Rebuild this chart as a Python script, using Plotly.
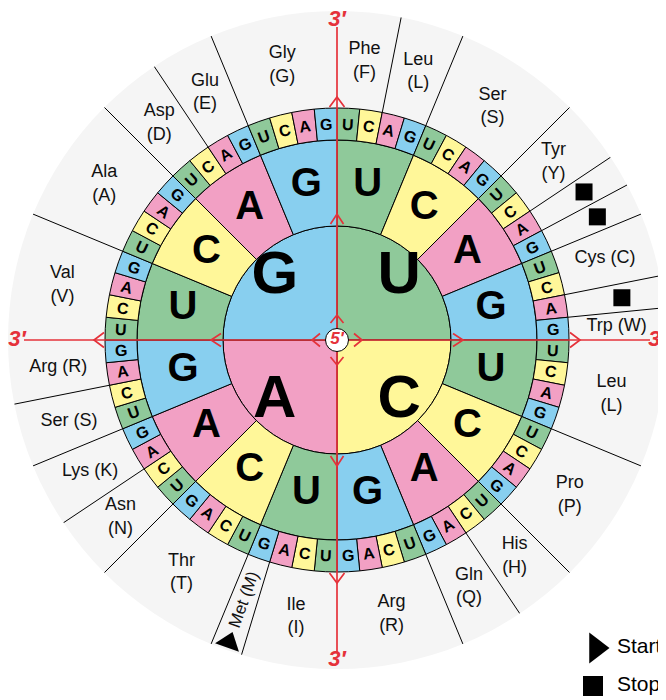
import numpy as np
import plotly.graph_objects as go

# ---------------- data ----------------
BASES = ["U", "C", "A", "G"]
BASE_COLORS = ["#8fc99a", "#fff799", "#f2a0c4", "#88cfef"]

# amino-acid groups, clockwise from 12 o'clock (codon counts)
AA_LABELS = ["Phe<br>(F)", "Leu<br>(L)", "Ser<br>(S)", "Tyr<br>(Y)", "", "", "Cys (C)", "", "Trp (W)",
             "Leu<br>(L)", "Pro<br>(P)", "His<br>(H)", "Gln<br>(Q)", "Arg<br>(R)",
             "Ile<br>(I)", "Met (M)", "Thr<br>(T)", "Asn<br>(N)", "Lys (K)", "Ser (S)", "Arg (R)",
             "Val<br>(V)", "Ala<br>(A)", "Asp<br>(D)", "Glu<br>(E)", "Gly<br>(G)"]
AA_SPANS = [2, 2, 4, 2, 1, 1, 2, 1, 1,
            4, 4, 2, 2, 4,
            3, 1, 4, 2, 2, 2, 2,
            4, 4, 2, 2, 4]
AA_KIND = ["aa", "aa", "aa", "aa", "stop", "stop", "aa", "stop", "aa",
           "aa", "aa", "aa", "aa", "aa",
           "aa", "start", "aa", "aa", "aa", "aa", "aa",
           "aa", "aa", "aa", "aa", "aa"]

LEGEND_LABELS = ["Start", "Stop"]

# ---------------- geometry / style ----------------
R_5 = 11.5
R1, R2, R3 = 114, 200, 232
R_OUT = 329
R_LABEL = 280
RED = "#e5323a"
FONT = "Liberation Sans, Arial, sans-serif"
CODON_DEG = 360 / 64

fig = go.Figure()

# rings
th1 = [90 * i + 45 for i in range(4)]
fig.add_trace(go.Barpolar(r=[R1] * 4, base=[0] * 4, theta=th1, width=[90] * 4,
                          marker=dict(color=BASE_COLORS, line=dict(color="black", width=1)),
                          hoverinfo="skip", showlegend=False))
th2, c2, l2 = [], [], []
for i in range(4):
    for j in range(4):
        th2.append(90 * i + 22.5 * j + 11.25)
        c2.append(BASE_COLORS[j])
        l2.append(BASES[j])
fig.add_trace(go.Barpolar(r=[R2 - R1] * 16, base=[R1] * 16, theta=th2, width=[22.5] * 16,
                          marker=dict(color=c2, line=dict(color="black", width=1)),
                          hoverinfo="skip", showlegend=False))
th3, c3, l3 = [], [], []
for i in range(4):
    for j in range(4):
        for k in range(4):
            th3.append(90 * i + 22.5 * j + CODON_DEG * k + CODON_DEG / 2)
            c3.append(BASE_COLORS[k])
            l3.append(BASES[k])
fig.add_trace(go.Barpolar(r=[R3 - R2] * 64, base=[R2] * 64, theta=th3, width=[CODON_DEG] * 64,
                          marker=dict(color=c3, line=dict(color="black", width=1)),
                          hoverinfo="skip", showlegend=False))

# group boundaries and centres
starts = np.concatenate([[0], np.cumsum(AA_SPANS)[:-1]])
mids = [(s + n / 2) * CODON_DEG for s, n in zip(starts, AA_SPANS)]
sep_r, sep_t = [], []
for s in starts:
    if s % 16 == 0:
        continue
    a = s * CODON_DEG
    sep_r += [R3, R_OUT, None]
    sep_t += [a, a, None]
fig.add_trace(go.Scatterpolar(r=sep_r, theta=sep_t, mode="lines",
                              line=dict(color="black", width=1), hoverinfo="skip",
                              showlegend=False, connectgaps=False))

# red axes with chevrons
ax_r, ax_t = [], []
for d in [0, 90, 180, 270]:
    ax_r += [R_5, 313, None]
    ax_t += [d, d, None]
for d in [0, 90, 180, 270]:
    for r0, back, lat in [(25, 8, 6.5), (126, 10, 6.5), (243, 10, 7.5)]:
        rb = r0 - back
        rr = float(np.hypot(rb, lat))
        da = float(np.degrees(np.arctan2(lat, rb)))
        ax_r += [rr, r0, rr, None]
        ax_t += [d - da, d, d + da, None]
fig.add_trace(go.Scatterpolar(r=ax_r, theta=ax_t, mode="lines",
                              line=dict(color=RED, width=1.7), hoverinfo="skip",
                              showlegend=False, connectgaps=False))

# 3' labels
fig.add_trace(go.Scatterpolar(r=[320] * 4, theta=[0, 90, 180, 270], mode="text",
                              text=["3′"] * 4, cliponaxis=False,
                              textfont=dict(color=RED, size=22, family=FONT, weight="bold", style="italic"),
                              hoverinfo="skip", showlegend=False))
# 5' centre circle
fig.add_trace(go.Scatterpolar(r=[0], theta=[0], mode="markers+text", text=["5′"],
                              textposition="middle center",
                              marker=dict(size=2 * R_5, color="white", line=dict(color="black", width=1)),
                              textfont=dict(color=RED, size=17, family=FONT, weight="bold", style="italic"),
                              hoverinfo="skip", showlegend=False))

# big letters
fig.add_trace(go.Scatterpolar(r=[88] * 4, theta=th1, mode="text", text=BASES,
                              textfont=dict(color="black", size=60, family=FONT, weight="bold"),
                              hoverinfo="skip", showlegend=False))
fig.add_trace(go.Scatterpolar(r=[(R1 + R2) / 2] * 16, theta=th2, mode="text", text=l2,
                              textfont=dict(color="black", size=40, family=FONT, weight="bold"),
                              hoverinfo="skip", showlegend=False))

# amino-acid labels
lab_r, lab_t, lab_s = [], [], []
stop_t, start_t = [], []
for lab, kind, m in zip(AA_LABELS, AA_KIND, mids):
    if kind == "aa":
        lab_r.append(R_LABEL)
        lab_t.append(m)
        lab_s.append(lab)
    elif kind == "stop":
        stop_t.append(m)
    else:
        start_t.append(m)
fig.add_trace(go.Scatterpolar(r=lab_r, theta=lab_t, mode="text", text=lab_s,
                              textfont=dict(color="#111111", size=18, family=FONT),
                              hoverinfo="skip", showlegend=False))
fig.add_trace(go.Scatterpolar(r=[288] * len(stop_t), theta=stop_t, mode="markers",
                              marker=dict(symbol="square", size=17, color="black"),
                              hoverinfo="skip", showlegend=False))
fig.add_trace(go.Scatterpolar(r=[321] * len(start_t), theta=start_t, mode="markers",
                              cliponaxis=False,
                              marker=dict(symbol="triangle-up", size=22, color="black",
                                          angle=[t - 180 for t in start_t]),
                              hoverinfo="skip", showlegend=False))

# page has an 8px body margin: figure is 658x692 and the wheel centre is placed accordingly
W, H = 658, 692
cx, cy = 329, 332

# legend (cartesian overlay covering the whole figure, 1 unit = 1 px, origin at wheel centre)
fig.add_trace(go.Scatter(x=[259, 256], y=[-308, -346], mode="markers", cliponaxis=False,
                         marker=dict(symbol=["triangle-right", "square"], size=[27, 20], color="black",
                                     opacity=1, line=dict(width=0)),
                         hoverinfo="skip", showlegend=False))
fig.add_trace(go.Scatter(x=[280, 280], y=[-308, -346], mode="text", text=LEGEND_LABELS,
                         textposition="middle right", cliponaxis=False,
                         textfont=dict(color="black", size=21, family=FONT),
                         hoverinfo="skip", showlegend=False))

# rotated annotations (third-base letters and Met label)
annotations = []
for t, lab in zip(th3, l3):
    rad = np.radians(t)
    ang = t - 90 * round(t / 90)
    annotations.append(dict(x=216 * np.sin(rad), y=216 * np.cos(rad), xref="x", yref="y",
                            text=f"<b>{lab}</b>", showarrow=False, textangle=ang,
                            xanchor="center", yanchor="middle",
                            font=dict(size=16, color="black", family=FONT)))
for t in start_t:
    rad = np.radians(t)
    annotations.append(dict(x=276 * np.sin(rad), y=276 * np.cos(rad), xref="x", yref="y",
                            text=AA_LABELS[AA_KIND.index("start")], showarrow=False,
                            textangle=-(90 - (t - 180)),
                            xanchor="center", yanchor="middle",
                            font=dict(size=17, color="#111111", family=FONT)))

fig.update_layout(
    width=W, height=H, margin=dict(l=0, r=0, t=0, b=0),
    paper_bgcolor="white", plot_bgcolor="rgba(0,0,0,0)",
    showlegend=False,
    polar=dict(
        domain=dict(x=[(cx - R_OUT) / W, (cx + R_OUT) / W],
                    y=[(H - cy - R_OUT) / H, (H - cy + R_OUT) / H]),
        bgcolor="#f5f5f5", bargap=0,
        radialaxis=dict(visible=False, range=[0, R_OUT]),
        angularaxis=dict(visible=False, rotation=90, direction="clockwise"),
    ),
    xaxis=dict(domain=[0, 1], range=[-cx, W - cx], visible=False, fixedrange=True),
    yaxis=dict(domain=[0, 1], range=[-(H - cy), cy], visible=False, fixedrange=True),
    annotations=annotations,
)

fig.write_html("out.html")
